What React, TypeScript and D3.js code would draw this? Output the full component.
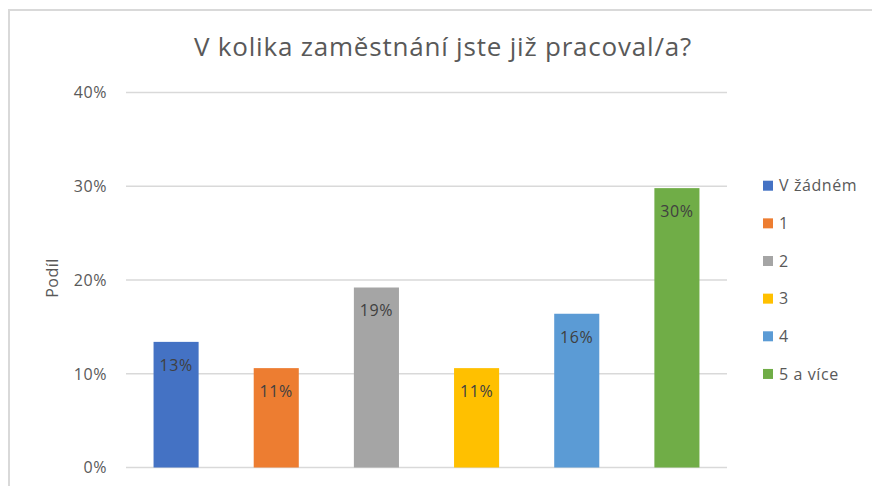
import React from "react";
import * as d3 from "d3";

const categories = ["V žádném", "1", "2", "3", "4", "5 a více"];
const values = [0.134, 0.106, 0.192, 0.106, 0.164, 0.298];
const valueLabels = ["13%", "11%", "19%", "11%", "16%", "30%"];
const colors = ["#4472C4", "#ED7D31", "#A5A5A5", "#FFC000", "#5B9BD5", "#70AD47"];
const yTicks = [0, 0.1, 0.2, 0.3, 0.4];
const title = "V kolika zaměstnání jste již pracoval/a?";
const yLabel = "Podíl";

const W = 872;
const H = 486;
const FONT = "'Open Sans', 'Noto Sans', sans-serif";

export default function App() {
  const x = d3.scaleBand<string>().domain(categories).range([126, 727]).paddingInner(0.55).paddingOuter(0.275);
  const y = d3.scaleLinear().domain([0, 0.4]).range([467.5, 92.5]);
  const fmt = d3.format(".0%");

  return (
    <svg width={W} height={H} style={{ position: "fixed", left: 0, top: 0, background: "#fff" }} fontFamily={FONT}>
      <rect x={0} y={0} width={W} height={H} fill="#fff" />
      <rect x={9} y={10} width={W + 10} height={H + 10} fill="none" stroke="#D9D9D9" strokeWidth={2} />
      <text x={443} y={56} textAnchor="middle" fontSize={26} letterSpacing={0.8} fill="#595959">{title}</text>
      {yTicks.map((t) => (
        <g key={t}>
          <line x1={126} x2={727} y1={y(t)} y2={y(t)} stroke="#D9D9D9" strokeWidth={1.5} />
          <text x={107} y={y(t)} dy="0.36em" textAnchor="end" fontSize={16} letterSpacing={0.6} fill="#595959">{fmt(t)}</text>
        </g>
      ))}
      <text transform={`translate(58,${278}) rotate(-90)`} textAnchor="middle" fontSize={16} letterSpacing={0.5} fill="#595959">{yLabel}</text>
      {categories.map((c, i) => (
        <g key={c}>
          <rect x={x(c)} y={y(values[i])} width={x.bandwidth()} height={y(0) - y(values[i])} fill={colors[i]} />
          <text x={(x(c) as number) + x.bandwidth() / 2} y={y(values[i]) + 23} dy="0.36em" textAnchor="middle" fontSize={16} letterSpacing={0.6} fill="#404040">{valueLabels[i]}</text>
        </g>
      ))}
      {categories.map((c, i) => {
        const ly = 185.7 + i * 37.65;
        return (
          <g key={"l" + c}>
            <rect x={763} y={ly - 5} width={10} height={10} fill={colors[i]} />
            <text x={779} y={ly} dy="0.36em" fontSize={16} letterSpacing={0.6} fill="#595959">{c}</text>
          </g>
        );
      })}
    </svg>
  );
}
